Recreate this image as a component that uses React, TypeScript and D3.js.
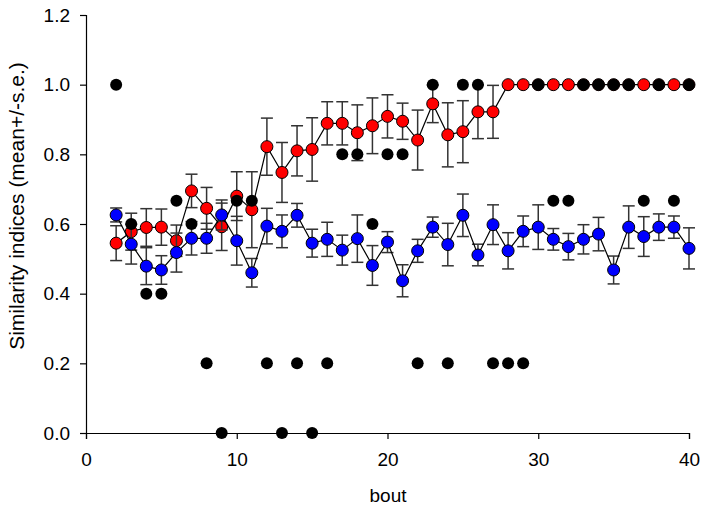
import React, { useEffect, useRef } from "react";
import * as d3 from "d3";

const bouts = d3.range(2, 41);
const redMean = [0.545, 0.578, 0.590, 0.591, 0.552, 0.695, 0.645, 0.592, 0.680, 0.641, 0.822, 0.748, 0.810, 0.814, 0.889, 0.889, 0.862, 0.882, 0.909, 0.895, 0.841, 0.945, 0.856, 0.865, 0.922, 0.922, 1, 1, 1, 1, 1, 1, 1, 1, 1, 1, 1, 1, 1];
const redSe = [0.05, 0.053, 0.054, 0.052, 0.045, 0.048, 0.06, 0.068, 0.07, 0.109, 0.082, 0.086, 0.072, 0.091, 0.062, 0.062, 0.08, 0.08, 0.062, 0.052, 0.086, 0.054, 0.092, 0.089, 0.077, 0.076, 0, 0, 0, 0, 0, 0, 0, 0, 0, 0, 0, 0, 0];
const blueMean = [0.626, 0.542, 0.479, 0.468, 0.518, 0.559, 0.559, 0.626, 0.552, 0.460, 0.594, 0.579, 0.625, 0.545, 0.556, 0.525, 0.558, 0.481, 0.548, 0.437, 0.523, 0.591, 0.541, 0.625, 0.511, 0.598, 0.523, 0.579, 0.591, 0.556, 0.535, 0.556, 0.571, 0.468, 0.591, 0.564, 0.591, 0.591, 0.530];
const blueSe = [0.02, 0.057, 0.053, 0.041, 0.056, 0.048, 0.043, 0.043, 0.07, 0.041, 0.051, 0.047, 0.034, 0.04, 0.049, 0.043, 0.068, 0.057, 0.03, 0.046, 0.033, 0.029, 0.061, 0.061, 0.031, 0.057, 0.052, 0.044, 0.064, 0.031, 0.038, 0.042, 0.048, 0.04, 0.061, 0.057, 0.038, 0.032, 0.059];
const blackVal = [1, 0.6, 0.4, 0.4, 0.667, 0.6, 0.2, 0, 0.667, 0.667, 0.2, 0, 0.2, 0, 0.2, 0.8, 0.8, 0.6, 0.8, 0.8, 0.2, 1, 0.2, 1, 1, 0.2, 0.2, 0.2, 1, 0.667, 0.667, 1, 1, 1, 1, 0.667, 1, 0.667, 1];
const xTicks = [0, 10, 20, 30, 40];
const yTicks = [0, 0.2, 0.4, 0.6, 0.8, 1.0, 1.2];

export default function App() {
  const ref = useRef<SVGSVGElement>(null);
  useEffect(() => {
    const svg = d3.select(ref.current);
    svg.selectAll("*").remove();
    const x = d3.scaleLinear().domain([0, 40]).range([86, 689]);
    const y = d3.scaleLinear().domain([0, 1.2]).range([433, 15]);
    const font = "Arial, 'Liberation Sans', sans-serif";

    // axes
    const xa = svg.append("g").attr("transform", "translate(0,433)")
      .call(d3.axisBottom(x).tickValues(xTicks).tickSize(6).tickPadding(14).tickFormat(d3.format("d")));
    const ya = svg.append("g").attr("transform", "translate(86,0)")
      .call(d3.axisLeft(y).tickValues(yTicks).tickSize(6).tickPadding(10).tickFormat(d3.format(".1f")));
    [xa, ya].forEach((g) => {
      g.select(".domain").attr("stroke", "#000").attr("stroke-width", 1.2);
      g.selectAll(".tick line").attr("stroke", "#000").attr("stroke-width", 1.2);
      g.selectAll(".tick text").attr("font-family", font).attr("font-size", 19).attr("fill", "#000");
    });

    svg.append("text").attr("x", 388).attr("y", 502).attr("text-anchor", "middle")
      .attr("font-family", font).attr("font-size", 19).text("bout");
    svg.append("text").attr("transform", "translate(24,206) rotate(-90)").attr("text-anchor", "middle")
      .attr("font-family", font).attr("font-size", 21).text("Similarity indices (mean+/-s.e.)");

    const drawSeries = (means: number[], ses: number[], fill: string) => {
      const g = svg.append("g");
      const data = bouts.map((b, i) => ({ b, m: means[i], s: ses[i] }));
      const eb = g.append("g").attr("stroke", "#333").attr("stroke-width", 1.5);
      data.filter((d) => d.s > 0).forEach((d) => {
        const cx = x(d.b);
        eb.append("line").attr("x1", cx).attr("x2", cx).attr("y1", y(d.m - d.s)).attr("y2", y(d.m + d.s));
        [d.m - d.s, d.m + d.s].forEach((v) => {
          eb.append("line").attr("x1", cx - 6).attr("x2", cx + 6).attr("y1", y(v)).attr("y2", y(v));
        });
      });
      g.append("path").datum(data)
        .attr("d", d3.line<any>().x((d) => x(d.b)).y((d) => y(d.m)))
        .attr("fill", "none").attr("stroke", "#000").attr("stroke-width", 1.2);
      g.selectAll("circle").data(data).enter().append("circle")
        .attr("cx", (d) => x(d.b)).attr("cy", (d) => y(d.m)).attr("r", 6)
        .attr("fill", fill).attr("stroke", "#000").attr("stroke-width", 1);
    };
    drawSeries(redMean, redSe, "#ff0000");
    drawSeries(blueMean, blueSe, "#0000ff");

    svg.append("g").selectAll("circle").data(bouts.map((b, i) => ({ b, v: blackVal[i] }))).enter()
      .append("circle").attr("cx", (d) => x(d.b)).attr("cy", (d) => y(d.v)).attr("r", 6).attr("fill", "#000");
  }, []);
  return (
    <svg ref={ref} width={702} height={510} style={{ position: "absolute", left: 0, top: 0, background: "#fff" }} />
  );
}
